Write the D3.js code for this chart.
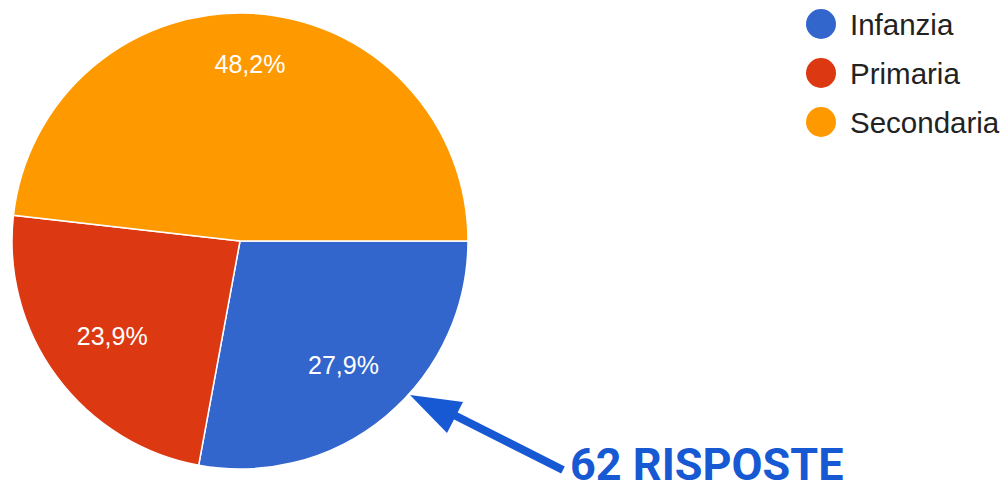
<!DOCTYPE html>
<html>
<head>
<meta charset="utf-8">
<script src="https://cdn.jsdelivr.net/npm/d3@7"></script>
<style>
  body { margin: 0; background: #fff; }
  svg { display: block; }
</style>
</head>
<body>
<script>
// categories and shares (percent)
var categories = ['Infanzia', 'Primaria', 'Secondaria'];
var shares = [27.9, 23.9, 48.2];
var sliceLabels = ['27,9%', '23,9%', '48,2%'];
var colors = ['#3366cc', '#dc3912', '#ff9900'];
var total_label = '62 RISPOSTE';

var w = 1008;
var h = 482;
var cx = 240, cy = 241, R = 228;

var svg = d3.select('body')
            .append('svg')
            .attr('width', w)
            .attr('height', h);

var pie = d3.pie()
            .sort(null)
            .startAngle(Math.PI / 2)
            .endAngle(Math.PI / 2 + 2 * Math.PI)
            .value(function(d) { return d; });

var arc = d3.arc().innerRadius(0).outerRadius(R);

var g = svg.append('g').attr('transform', 'translate(' + cx + ',' + cy + ')');

var arcs = pie(shares);

g.selectAll('path')
 .data(arcs)
 .enter()
 .append('path')
 .attr('d', arc)
 .attr('fill', function(d, i) { return colors[i]; })
 .attr('stroke', '#fff')
 .attr('stroke-width', 1.5);

// labels: pushed out along the mid angle until the farthest box corner hits a limit
var limit = R * 0.86;
g.selectAll('text.lbl')
 .data(arcs)
 .enter()
 .append('text')
 .attr('class', 'lbl')
 .attr('text-anchor', 'middle')
 .attr('font-family', '"Liberation Sans", Arial, sans-serif')
 .attr('font-size', 25)
 .attr('fill', '#fff')
 .text(function(d, i) { return sliceLabels[i]; })
 .each(function(d) {
    var t = d3.select(this);
    var bb = this.getBBox();
    var a = (d.startAngle + d.endAngle) / 2;
    var sx = Math.sin(a), sy = -Math.cos(a);
    var lo = 0, hi = R;
    for (var k = 0; k < 30; k++) {
        var r = (lo + hi) / 2;
        var x = r * sx, y = r * sy;
        var far = 0;
        [-1, 1].forEach(function(ex) {
            [-1, 1].forEach(function(ey) {
                var px = x + ex * bb.width / 2, py = y + ey * bb.height / 2;
                far = Math.max(far, Math.sqrt(px * px + py * py));
            });
        });
        if (far > limit) hi = r; else lo = r;
    }
    var mx = lo * sx, my = lo * sy;
    var off = bb.y + bb.height / 2;
    t.attr('x', mx).attr('y', my - off);
 });

// legend
var legend = svg.append('g');
legend.selectAll('circle')
      .data(categories)
      .enter()
      .append('circle')
      .attr('cx', 821)
      .attr('cy', function(d, i) { return 24 + i * 49; })
      .attr('r', 15)
      .attr('fill', function(d, i) { return colors[i]; });
legend.selectAll('text')
      .data(categories)
      .enter()
      .append('text')
      .attr('x', 850)
      .attr('y', function(d, i) { return 35 + i * 49; })
      .attr('font-family', '"Liberation Sans", Arial, sans-serif')
      .attr('font-size', 29.5)
      .attr('fill', '#222')
      .text(function(d) { return d; });

// annotation arrow
var blue = '#1758d3';
svg.append('line')
   .attr('x1', 563).attr('y1', 470)
   .attr('x2', 450).attr('y2', 413)
   .attr('stroke', blue)
   .attr('stroke-width', 8);
svg.append('path')
   .attr('d', 'M410,395 L463,402 L447,433 Z')
   .attr('fill', blue);
svg.append('text')
   .attr('x', 570)
   .attr('y', 480)
   .attr('font-family', 'Roboto, sans-serif')
   .attr('font-weight', 'bold')
   .attr('font-size', 45)
   .attr('fill', blue)
   .text(total_label);
</script>
</body>
</html>
